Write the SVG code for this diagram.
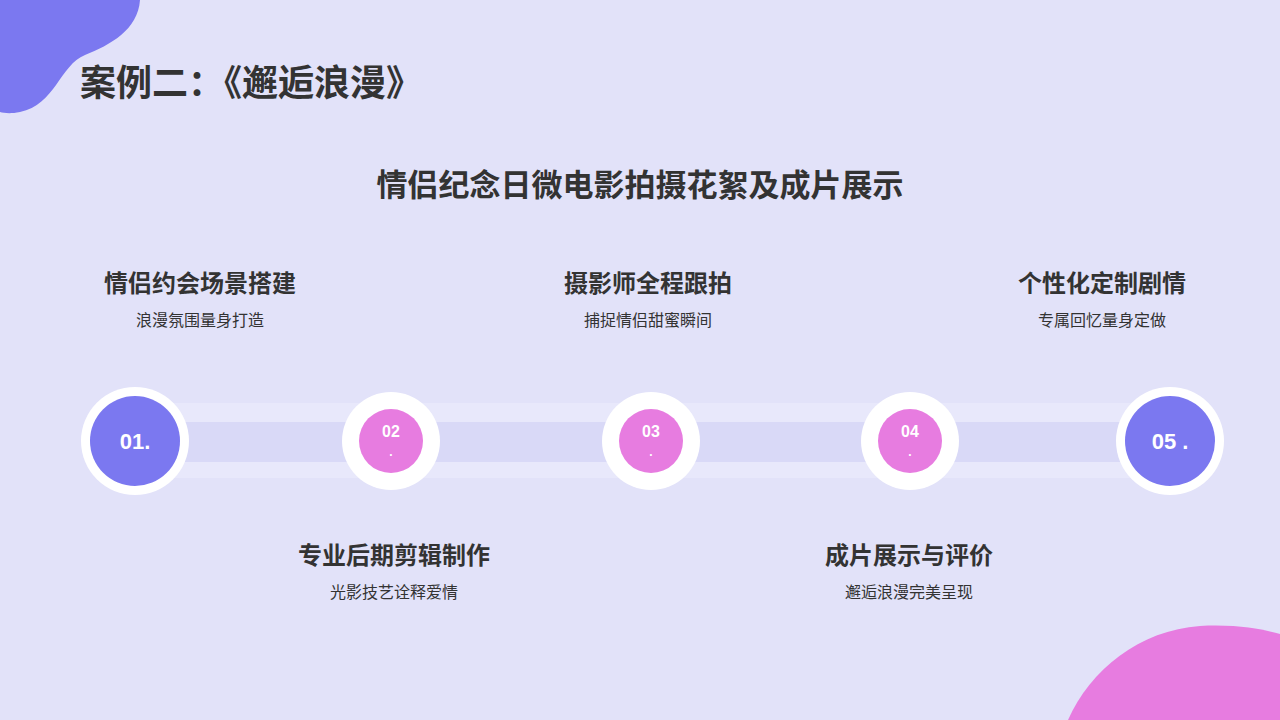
<svg xmlns="http://www.w3.org/2000/svg" width="1280" height="720" viewBox="0 0 1280 720">
<style>
.t{font-family:"Noto Sans CJK SC","Liberation Sans",sans-serif;fill:#333;font-weight:bold}
.h{font-size:24px;text-anchor:middle}
.s{font-size:16px;text-anchor:middle;font-weight:normal;fill:#333}
.n{font-family:"Liberation Sans",sans-serif;fill:#fff;font-weight:bold;text-anchor:middle}
.ring{fill:#fff}
</style>
<rect width="1280" height="720" fill="#e2e2f9"/>
<path d="M0,0 H140 C138,30 110,45 85,55 C60,65 55,105 20,112 C10,114 4,113 0,112 Z" fill="#7b78f0"/>
<path d="M1068,720 C1090,670 1140,630 1200,626 C1240,624 1265,630 1280,634 V720 Z" fill="#e77ce0"/>
<text class="t" x="80" y="96" style="font-size:36px">案例二：《邂逅浪漫》</text>
<text class="t" x="640" y="196" text-anchor="middle" style="font-size:31px">情侣纪念日微电影拍摄花絮及成片展示</text>
<g id="band">
<rect x="135" y="403" width="1035" height="75" fill="#e8e8fb"/>
<rect x="135" y="422" width="1035" height="40" fill="#d9d9f7"/>
</g>
<g id="connectors"></g>
<g id="n1"><circle class="ring" cx="135" cy="441" r="54"/><circle cx="135" cy="441" r="45" fill="#7b78f0"/><text class="n" x="135" y="449" font-size="22">01.</text>
<text class="t h" x="200" y="292">情侣约会场景搭建</text><text class="t s" x="200" y="326">浪漫氛围量身打造</text></g>
<g id="n2"><circle class="ring" cx="391" cy="441" r="49"/><circle cx="391" cy="441" r="32" fill="#e77ce0"/><text class="n" x="391" y="437" font-size="16">02</text><text class="n" x="391" y="456" font-size="12">.</text>
<text class="t h" x="394" y="564">专业后期剪辑制作</text><text class="t s" x="394" y="598">光影技艺诠释爱情</text></g>
<g id="n3"><circle class="ring" cx="651" cy="441" r="49"/><circle cx="651" cy="441" r="32" fill="#e77ce0"/><text class="n" x="651" y="437" font-size="16">03</text><text class="n" x="651" y="456" font-size="12">.</text>
<text class="t h" x="648" y="292">摄影师全程跟拍</text><text class="t s" x="648" y="326">捕捉情侣甜蜜瞬间</text></g>
<g id="n4"><circle class="ring" cx="910" cy="441" r="49"/><circle cx="910" cy="441" r="32" fill="#e77ce0"/><text class="n" x="910" y="437" font-size="16">04</text><text class="n" x="910" y="456" font-size="12">.</text>
<text class="t h" x="909" y="564">成片展示与评价</text><text class="t s" x="909" y="598">邂逅浪漫完美呈现</text></g>
<g id="n5"><circle class="ring" cx="1170" cy="441" r="54"/><circle cx="1170" cy="441" r="45" fill="#7b78f0"/><text class="n" x="1170" y="449" font-size="22">05 .</text>
<text class="t h" x="1102" y="292">个性化定制剧情</text><text class="t s" x="1102" y="326">专属回忆量身定做</text></g>
</svg>
